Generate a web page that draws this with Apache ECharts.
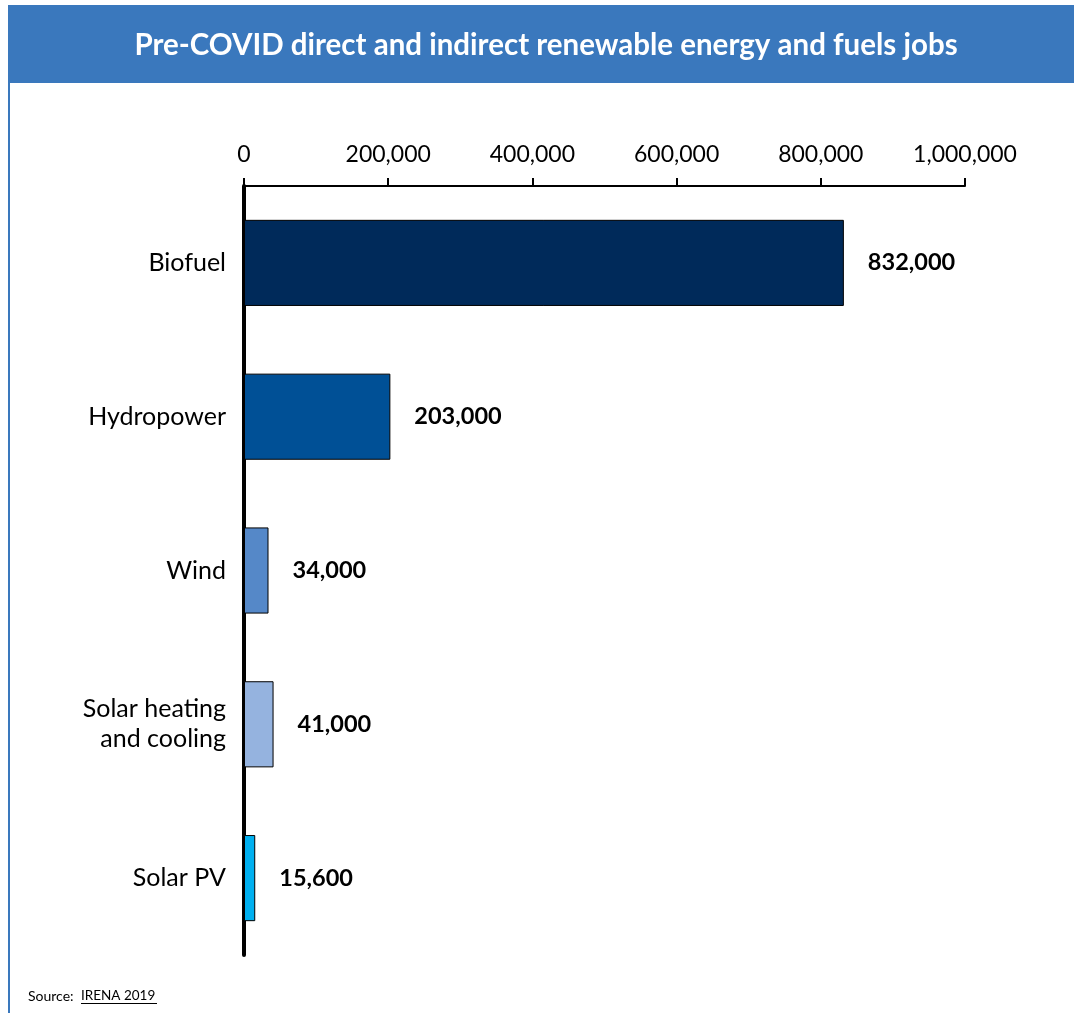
<!DOCTYPE html>
<html>
<head>
<meta charset="utf-8">
<script src="https://cdn.jsdelivr.net/npm/echarts@6/dist/echarts.min.js"></script>
<style>
  html, body { margin: 0; padding: 0; background: #fff; }
  #jobsChart { width: 1074px; height: 1013px; }
</style>
</head>
<body>
<div id="jobsChart"></div>
<script>
// chart data
const categories = ['Biofuel', 'Hydropower', 'Wind', 'Solar heating\nand cooling', 'Solar PV']
const jobs = [832000, 203000, 34000, 41000, 15600]
const barColors = ['#002a5a', '#005096', '#5588c8', '#95b3df', '#00b0f0']
const axisTicks = [0, 200000, 400000, 600000, 800000, 1000000]

const fmt = v => v.toLocaleString('en-US')
const font = 'Lato'

let myChart = echarts.init(document.getElementById('jobsChart'))
let options = {
  animation: false,
  textStyle: { fontFamily: font },
  graphic: [
    { type: 'rect', shape: { x: 8, y: 5, width: 1066, height: 78 }, style: { fill: '#3a78bd' } },
    { type: 'rect', shape: { x: 8, y: 83, width: 2, height: 930 }, style: { fill: '#3a78bd' } },
    {
      type: 'text', x: 546, y: 45,
      style: {
        text: 'Pre-COVID direct and indirect renewable energy and fuels jobs',
        fill: '#fff', font: 'bold 29.5px ' + font, align: 'center', verticalAlign: 'middle'
      }
    },
    {
      type: 'text', x: 28, y: 996,
      style: { text: 'Source:', fill: '#000', font: '14px ' + font, verticalAlign: 'middle' }
    },
    {
      type: 'text', x: 81, y: 996,
      style: { text: 'IRENA 2019', fill: '#000', font: '13.5px ' + font, verticalAlign: 'middle' }
    },
    { type: 'rect', shape: { x: 81, y: 1003, width: 76, height: 1 }, style: { fill: '#000' } }
  ],
  grid: { left: 244, right: 109, top: 186, bottom: 58 },
  xAxis: {
    type: 'value',
    position: 'top',
    min: axisTicks[0],
    max: axisTicks[axisTicks.length - 1],
    interval: axisTicks[1] - axisTicks[0],
    axisLine: { show: true, lineStyle: { color: '#000', width: 2 } },
    axisTick: { show: true, length: 8, lineStyle: { color: '#000', width: 2 } },
    axisLabel: { color: '#000', fontSize: 23, margin: 20, formatter: v => fmt(v) },
    splitLine: { show: false }
  },
  yAxis: {
    type: 'category',
    inverse: true,
    data: categories,
    axisLine: { show: true, lineStyle: { color: '#000', width: 4 } },
    axisTick: { show: false },
    axisLabel: { color: '#000', fontSize: 25, margin: 18, lineHeight: 30, align: 'right' }
  },
  series: [
    {
      name: 'Jobs',
      type: 'bar',
      barCategoryGap: '44%',
      data: jobs.map((v, i) => ({ value: v, itemStyle: { color: barColors[i] } })),
      itemStyle: { borderColor: '#000', borderWidth: 1 },
      label: {
        show: true,
        position: 'right',
        distance: 24,
        color: '#000',
        fontWeight: 'bold',
        fontSize: 23.5,
        formatter: p => fmt(p.value)
      }
    }
  ]
}
myChart.setOption(options)
</script>
</body>
</html>
